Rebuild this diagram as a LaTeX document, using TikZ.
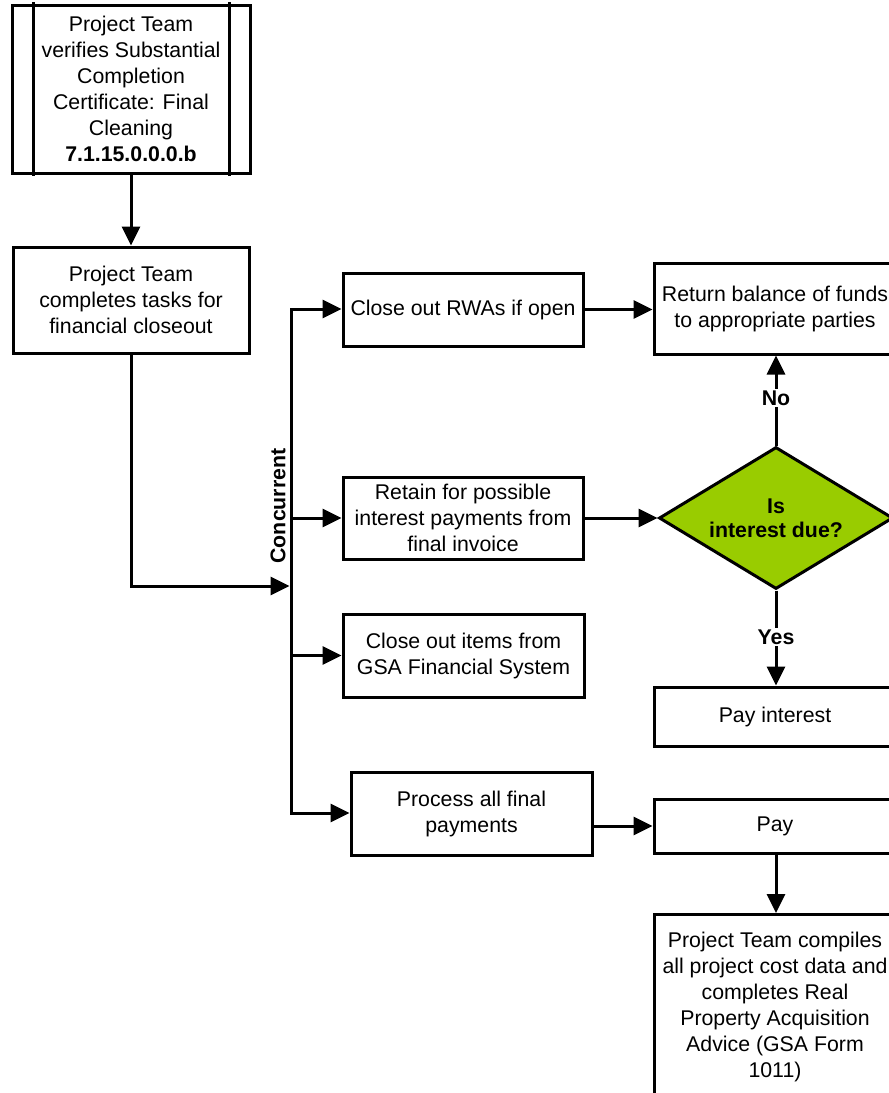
\documentclass[tikz,border=0pt]{standalone}
\usepackage{fontspec}
\setmainfont{Liberation Sans}
\usetikzlibrary{arrows.meta,shapes.geometric,calc}
\definecolor{dgreen}{HTML}{99CC00}
\begin{document}
\begin{tikzpicture}[x=1pt,y=-1pt,
  every node/.style={font=\fontsize{21.3}{26}\selectfont},
  box/.style={draw,line width=3pt,fill=white,align=center,inner sep=0pt,rectangle},
  ln/.style={line width=3pt,line cap=rect},
  arr/.style={line width=3pt,-{Triangle[length=19pt,width=18pt]}},
  lbl/.style={font=\fontsize{21.3}{26}\selectfont\bfseries,fill=white,inner sep=2pt}]
\useasboundingbox (0,0) rectangle (889,1093);
\clip (0,0) rectangle (889,1093);

% left column
\node[box,minimum width=238pt,minimum height=168pt] (verify) at (131,89)
  {Project Team\\verifies Substantial\\Completion\\Certificate: Final\\Cleaning\\\textbf{7.1.15.0.0.0.b}};
\draw[ln] ([xshift=23pt]verify.north west) -- ([xshift=23pt]verify.south west);
\draw[ln] ([xshift=-22pt]verify.north east) -- ([xshift=-22pt]verify.south east);

\node[box,minimum width=236pt,minimum height=106pt] (tasks) at (131,300)
  {Project Team\\completes tasks for\\financial closeout};

% middle column
\node[box,minimum width=240pt,minimum height=73pt] (rwa) at (463,309.5) {Close out RWAs if open};
\node[box,minimum width=240pt,minimum height=82pt] (retain) at (463,518)
  {Retain for possible\\interest payments from\\final invoice};
\node[box,minimum width=241pt,minimum height=83pt] (items) at (463.5,655.5)
  {Close out items from\\GSA Financial System};
\node[box,minimum width=241pt,minimum height=83pt] (proc) at (471.5,813.5)
  {Process all final\\payments};

% right column
\node[box,minimum width=242pt,minimum height=91pt] (ret) at (775,308.5)
  {Return balance of funds\\to appropriate parties};
\node[diamond,draw,line width=3pt,fill=dgreen,minimum width=234pt,minimum height=142pt,
  inner sep=0pt,aspect=1.65,align=center,font=\fontsize{21.3}{24}\selectfont\bfseries] (dec) at (776,518)
  {Is\\interest due?};
\node[box,minimum width=242pt,minimum height=59pt] (payint) at (775,716.5) {Pay interest};
\node[box,minimum width=242pt,minimum height=54pt] (pay) at (775,826) {Pay};
\node[box,minimum width=242pt,minimum height=184pt,anchor=north] (final) at (775,913)
  {Project Team compiles\\all project cost data and\\completes Real\\Property Acquisition\\Advice (GSA Form\\1011)};

% concurrent bar
\coordinate (bartop) at (291,309);
\coordinate (barbot) at (291,813);
\coordinate (merge) at (289.5,586);
\draw[ln] (bartop) -- (barbot);
\node[font=\fontsize{21.3}{26}\selectfont\bfseries,rotate=90] (conc) at (278,506) {Concurrent};

% connectors
\draw[arr] (verify) -- (tasks);
\draw[arr] (tasks.south) |- (merge);
\draw[arr] (bartop) -- (rwa.west |- bartop);
\draw[arr] (bartop |- retain.west) -- (retain.west);
\draw[arr] (bartop |- items.west) -- (items.west);
\draw[arr] (barbot) -- (proc.west |- barbot);
\draw[arr] (rwa.east) -- (rwa.east -| ret.west);
\draw[arr] (retain.east) -- (dec.west);
\draw[arr] (dec.north) -- (dec.north |- ret.south);
\node[lbl] (no) at (776,398) {No};
\draw[arr] (dec.south) -- (dec.south |- payint.north);
\node[lbl] (yes) at (776,637) {Yes};
\draw[arr] (proc.east |- pay.west) -- (pay.west);
\draw[arr] (pay.south -| dec.south) -- (final.north -| dec.south);
\end{tikzpicture}
\end{document}
